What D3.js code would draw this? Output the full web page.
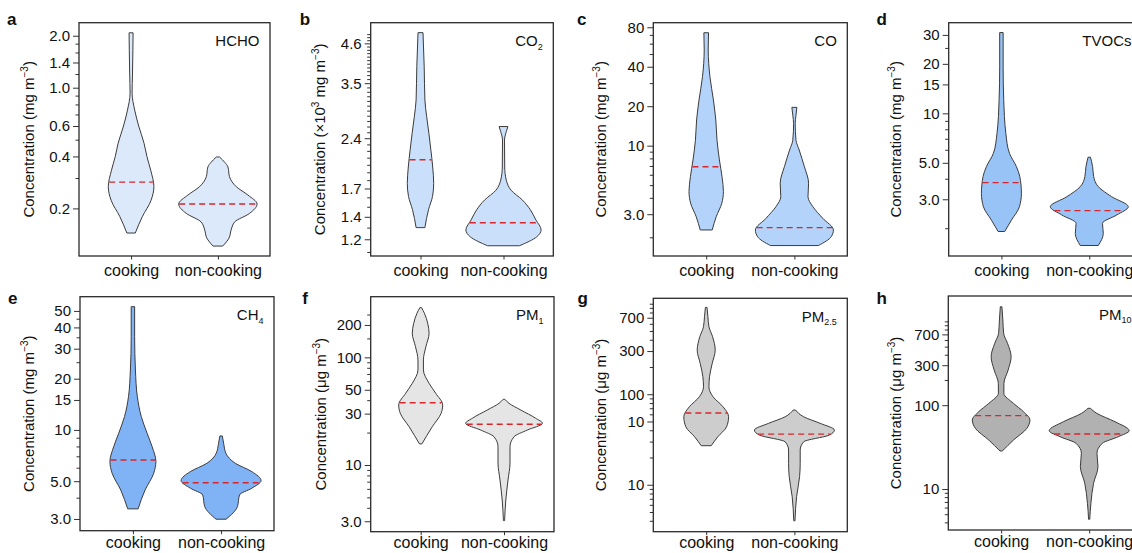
<!DOCTYPE html>
<html><head><meta charset="utf-8">
<script src="https://cdn.jsdelivr.net/npm/d3@7"></script>
<style>
body{margin:0;background:#fff;}
svg text{font-family:"Liberation Sans",Arial,Helvetica,sans-serif;fill:#111;}
</style></head><body>
<svg id="chart" width="1132" height="553"></svg>
<script>
// ---------------- DATA ----------------
const categories = ["cooking", "non-cooking"];

// Violin profiles: [concentration, relative density (half-width)]
// a: HCHO (mg m-3)
const hchoCooking    = [[2.08,0.05],[1.65,0.045],[1.2,0.035],[0.93,0.025],[0.742,0.09],[0.60,0.19],[0.476,0.325],[0.40,0.395],[0.333,0.49],[0.267,0.57],[0.223,0.50],[0.179,0.28],[0.144,0.105]];
const hchoNonCooking = [[0.397,0.04],[0.37,0.17],[0.348,0.25],[0.305,0.29],[0.267,0.46],[0.239,0.75],[0.212,0.98],[0.187,0.79],[0.167,0.42],[0.150,0.33],[0.135,0.28],[0.121,0.12]];
const hchoMedians = [0.284, 0.212];
const hchoTicks = [0.2,0.4,0.6,1.0,1.4,2.0];
const hchoTickLabels = ["0.2","0.4","0.6","1.0","1.4","2.0"];
const hchoMinor = [0.3,0.5,0.7,0.8,0.9,1.2,1.6,1.8];

// b: CO2 (x10^3 mg m-3)
const co2Cooking    = [[4.95,0.0625],[3.92,0.0925],[3.12,0.11],[2.78,0.155],[2.48,0.21],[2.21,0.26],[1.97,0.305],[1.76,0.33],[1.61,0.30],[1.47,0.20],[1.30,0.11]];
const co2NonCooking = [[2.60,0.11],[2.51,0.07],[2.37,0.025],[1.97,0.03],[1.80,0.07],[1.68,0.19],[1.57,0.475],[1.47,0.67],[1.37,0.81],[1.28,0.94],[1.22,0.83],[1.148,0.40]];
const co2Medians = [2.07, 1.344];
const co2Ticks = [1.2,1.4,1.7,2.4,3.5,4.6];
const co2TickLabels = ["1.2","1.4","1.7","2.4","3.5","4.6"];
const co2Minor = [1.1,1.3,1.5,1.6,1.8,1.9,2.0,2.1,2.2,2.3,2.5,2.6,2.7,2.8,2.9,3.0,3.1,3.2,3.3,3.4,3.6,3.7,3.8,3.9,4.0,4.1,4.2,4.3,4.4,4.5,4.7,4.8,4.9];

// c: CO (mg m-3)
const coCooking    = [[72.7,0.058],[53.7,0.05],[33.6,0.093],[22.3,0.18],[15.7,0.24],[11.0,0.27],[7.78,0.33],[5.8,0.395],[4.46,0.43],[3.64,0.39],[2.87,0.25],[2.275,0.15]];
const coNonCooking = [[19.6,0.063],[17.1,0.04],[14.8,0.02],[11.0,0.04],[9.27,0.12],[6.91,0.25],[5.17,0.355],[4.08,0.34],[3.43,0.46],[2.79,0.71],[2.275,0.975],[2.02,0.92],[1.73,0.60]];
const coMedians = [6.91, 2.37];
const coTicks = [3,10,20,40,80];
const coTickLabels = ["3.0","10","20","40","80"];
const coMinor = [2,4,5,6,7,8,9,30,50,60,70];

// d: TVOCs (mg m-3)
const tvocCooking    = [[31,0.043],[19.2,0.043],[12.1,0.058],[7.57,0.11],[5.72,0.20],[4.74,0.375],[4.12,0.46],[3.26,0.50],[2.70,0.45],[2.24,0.25],[1.91,0.083]];
const tvocNonCooking = [[5.41,0.03],[4.74,0.083],[4.12,0.11],[3.58,0.225],[3.11,0.56],[2.70,0.975],[2.41,0.69],[2.14,0.33],[1.86,0.35],[1.57,0.225]];
const tvocMedians = [3.79, 2.56];
const tvocTicks = [3,5,10,15,20,30];
const tvocTickLabels = ["3.0","5.0","10","15","20","30"];
const tvocMinor = [2,4,6,7,8,9,25];

// e: CH4 (mg m-3)
const ch4Cooking    = [[52.97,0.043],[35.3,0.043],[22.5,0.063],[15.7,0.11],[11.97,0.21],[9.56,0.355],[7.98,0.48],[6.52,0.575],[5.57,0.52],[4.44,0.305],[3.44,0.13]];
const ch4NonCooking = [[9.22,0.03],[8.36,0.063],[7.30,0.12],[6.37,0.355],[5.69,0.77],[5.04,1.0],[4.55,0.77],[4.15,0.46],[3.55,0.41],[2.99,0.125]];
const ch4Medians = [6.66, 4.90];
const ch4Ticks = [3,5,10,15,20,30,40,50];
const ch4TickLabels = ["3.0","5.0","10","15","20","30","40","50"];
const ch4Minor = [4,6,7,8,9,25,35,45];

// f: PM1 (ug m-3)
const pm1Cooking    = [[289.7,0.02],[257,0.093],[207,0.175],[167.5,0.21],[125.7,0.13],[94.6,0.068],[76.4,0.068],[57.4,0.21],[46.4,0.375],[36.1,0.55],[30.2,0.51],[22.7,0.29],[15.7,0.03]];
const pm1NonCooking = [[40.8,0.02],[37.4,0.125],[32.4,0.42],[27.2,0.79],[24.4,0.96],[21.1,0.58],[18.3,0.25],[14.8,0.15],[10.4,0.15],[7.26,0.10],[4.73,0.045],[3.04,0.015]];
const pm1Medians = [37.9, 23.9];
const pm1Ticks = [3,10,30,50,100,200];
const pm1TickLabels = ["3.0","10","30","50","100","200"];
const pm1Minor = [4,5,6,7,8,9,20,40,60,70,80,90,150,250];

// g: PM2.5 (ug m-3)
const pm25Cooking    = [[912,0.02],[718,0.043],[557,0.068],[432,0.16],[307,0.225],[219,0.15],[156,0.083],[121,0.068],[93.9,0.17],[72.8,0.42],[56.4,0.56],[43.7,0.51],[33.9,0.29],[27.0,0.125]];
const pm25NonCooking = [[66.9,0.03],[56.4,0.23],[47.7,0.645],[40.2,1.0],[35.4,0.875],[29.8,0.23],[24.2,0.145],[17.2,0.145],[12.3,0.13],[7.37,0.055],[4.0,0.015]];
const pm25Medians = [62, 36.3];
const pm25Ticks = [10,50,100,300,700];
const pm25TickLabels = ["10","10","100","300","700"];
const pm25Minor = [4,5,6,7,8,9,20,30,40,60,70,80,90,200,400,500,600,800,900,1000];

// h: PM10 (ug m-3)
const pm10Cooking    = [[1497,0.02],[1040,0.043],[721,0.063],[548,0.16],[380,0.25],[263,0.175],[182,0.07],[139,0.068],[105,0.31],[83.6,0.56],[66.6,0.72],[53.0,0.645],[38.4,0.31],[28.4,0.03]];
const pm10NonCooking = [[91.8,0.03],[80,0.19],[63.5,0.645],[49.6,1.0],[42.1,0.73],[35.1,0.33],[26.7,0.195],[18.5,0.22],[11.7,0.11],[6.75,0.043],[4.35,0.015]];
const pm10Medians = [75, 45.3];
const pm10Ticks = [10,100,300,700];
const pm10TickLabels = ["10","100","300","700"];
const pm10Minor = [4,5,6,7,8,9,200,400,500,600,800,900,1000];

// ---------------- LAYOUT / STYLE ----------------
const mgUnit  = [["Concentration (mg m",0],["\u22123",1],[")",0]];
const co2Unit = [["Concentration (\u00d710",0],["3",1],[" mg m",0],["\u22123",1],[")",0]];
const ugUnit  = [["Concentration (\u03bcg m",0],["\u22123",1],[")",0]];

const panels = [
  {letter:"a", lx:11.7, ly:25,  box:[79,22.7,270,256],      dom:[0.106,2.38], fill:"#dce9fb", title:[["HCHO",0]], unit:mgUnit,  tx:33.5, xpad:5,
   prof:[hchoCooking,hchoNonCooking], med:hchoMedians, ticks:hchoTicks, labels:hchoTickLabels, minor:hchoMinor},
  {letter:"b", lx:305,  ly:25,  box:[370.7,22.7,553.3,256], dom:[1.07,5.30],  fill:"#c9dffa", title:[["CO",0],["2",2]], unit:co2Unit, tx:324.5, xpad:5,
   prof:[co2Cooking,co2NonCooking], med:co2Medians, ticks:co2Ticks, labels:co2TickLabels, minor:co2Minor},
  {letter:"c", lx:581.7,ly:25,  box:[653.3,22.7,847.3,256], dom:[1.44,86.7],  fill:"#b3d3fa", title:[["CO",0]], unit:mgUnit, tx:606, xpad:5,
   prof:[coCooking,coNonCooking], med:coMedians, ticks:coTicks, labels:coTickLabels, minor:coMinor},
  {letter:"d", lx:881.7,ly:25,  box:[948.7,22.7,1142,256],  dom:[1.355,35.6], fill:"#98c3f7", title:[["TVOCs",0]], unit:mgUnit, tx:901, xpad:5,
   prof:[tvocCooking,tvocNonCooking], med:tvocMedians, ticks:tvocTicks, labels:tvocTickLabels, minor:tvocMinor},
  {letter:"e", lx:12.7, ly:303.5,box:[80,296.7,274,530.7],  dom:[2.56,60.6],  fill:"#7fb3f6", title:[["CH",0],["4",2]], unit:mgUnit, tx:33.5, xpad:2,
   prof:[ch4Cooking,ch4NonCooking], med:ch4Medians, ticks:ch4Ticks, labels:ch4TickLabels, minor:ch4Minor},
  {letter:"f", lx:305,  ly:303.5,box:[370.7,296.7,554,531.7],dom:[2.40,366],  fill:"#e5e5e5", title:[["PM",0],["1",2]], unit:ugUnit, tx:326, xpad:1,
   prof:[pm1Cooking,pm1NonCooking], med:pm1Medians, ticks:pm1Ticks, labels:pm1TickLabels, minor:pm1Minor},
  {letter:"g", lx:582.7,ly:303.5,box:[653.3,298.3,847.3,531.7],dom:[3.03,1148],fill:"#cdcdcd", title:[["PM",0],["2.5",2]], unit:ugUnit, tx:606, xpad:1,
   prof:[pm25Cooking,pm25NonCooking], med:pm25Medians, ticks:pm25Ticks, labels:pm25TickLabels, minor:pm25Minor},
  {letter:"h", lx:881.7,ly:303.5,box:[948.3,296,1142,530],  dom:[3.24,2010],  fill:"#b1b1b1", title:[["PM",0],["10",2]], unit:ugUnit, tx:901, xpad:2,
   prof:[pm10Cooking,pm10NonCooking], med:pm10Medians, ticks:pm10Ticks, labels:pm10TickLabels, minor:pm10Minor}
];

const svg = d3.select("#chart");
const FONT = '"Liberation Sans",Arial,Helvetica,sans-serif';

function addRich(sel, parts, baseSize, supSize, supShift) {
  let shift = 0;
  parts.forEach(([t, kind]) => {
    const ts = sel.append("tspan").text(t);
    let target = 0;
    if (kind === 1) { ts.attr("font-size", supSize); target = -supShift; }
    else if (kind === 2) { ts.attr("font-size", supSize); target = supShift * 0.55; }
    ts.attr("dy", target - shift);
    shift = target;
  });
}

function xAtY(node, targetY) {
  const L = node.getTotalLength();
  let lo = 0, hi = L;
  for (let i = 0; i < 40; i++) {
    const mid = (lo + hi) / 2;
    if (node.getPointAtLength(mid).y < targetY) lo = mid; else hi = mid;
  }
  return node.getPointAtLength((lo + hi) / 2).x;
}

panels.forEach(p => {
  const [L, T, R, B] = p.box;
  const g = svg.append("g");
  const y = d3.scaleLog().domain(p.dom).range([B, T]);
  const x = d3.scalePoint().domain(categories).range([L, R]).padding(0.6);
  const w = d3.scaleLinear().domain([0, 1]).range([0, 40]);

  const clip = "clip-" + p.letter;
  svg.append("clipPath").attr("id", clip).append("rect").attr("x", L).attr("y", T).attr("width", R - L).attr("height", B - T);
  const plot = g.append("g").attr("clip-path", `url(#${clip})`);

  p.prof.forEach((prof, k) => {
    const cx = x(categories[k]);
    const pts = prof.map(([v, d]) => ({v, d})).sort((a, b) => b.v - a.v);
    const area = d3.area().curve(d3.curveMonotoneY)
      .y(d => y(d.v)).x0(d => cx - w(d.d)).x1(d => cx + w(d.d));
    plot.append("path").attr("d", area(pts))
      .attr("fill", p.fill).attr("stroke", "#3b3b3b").attr("stroke-width", 1);
    const side = d3.line().curve(d3.curveMonotoneY).y(d => y(d.v)).x(d => cx + w(d.d));
    const tmp = plot.append("path").attr("d", side(pts)).attr("fill", "none").attr("stroke", "none");
    const my = y(p.med[k]);
    const xr = xAtY(tmp.node(), my);
    tmp.remove();
    const half = xr - cx;
    plot.append("line").attr("x1", cx - half + 0.5).attr("x2", cx + half - 0.5)
      .attr("y1", my).attr("y2", my)
      .attr("stroke", "#d9262b").attr("stroke-width", 1.4).attr("stroke-dasharray", "6,4");
  });

  const minorAxis = d3.axisLeft(y).tickValues(p.minor).tickSize(3.5).tickFormat("");
  const gm = g.append("g").attr("transform", `translate(${L},0)`).call(minorAxis);
  gm.select(".domain").remove();
  gm.selectAll("line").attr("stroke", "#333");

  const yAxis = d3.axisLeft(y).tickValues(p.ticks)
    .tickFormat((d, i) => p.labels[i]).tickSize(6).tickPadding(3);
  const ga = g.append("g").attr("transform", `translate(${L},0)`).call(yAxis);
  ga.select(".domain").remove();
  ga.selectAll("line").attr("stroke", "#333");
  ga.selectAll("text").attr("font-size", 15).attr("font-family", FONT).attr("fill", "#111");

  const xAxis = d3.axisBottom(x).tickSize(3.5).tickPadding(p.xpad);
  const gx = g.append("g").attr("transform", `translate(0,${B})`).call(xAxis);
  gx.select(".domain").remove();
  gx.selectAll("line").attr("stroke", "#333");
  gx.selectAll("text").attr("font-size", 16).attr("font-family", FONT).attr("fill", "#111");

  g.append("rect").attr("x", L).attr("y", T).attr("width", R - L).attr("height", B - T)
    .attr("fill", "none").attr("stroke", "#2a2a2a").attr("stroke-width", 1.3);

  const tt = g.append("text").attr("x", R - 10.5).attr("y", T + 23.5)
    .attr("text-anchor", "end").attr("font-size", 15);
  addRich(tt, p.title, 15, 9, 6);

  const yt = g.append("text").attr("transform", `translate(${p.tx},${(T + B) / 2}) rotate(-90)`)
    .attr("text-anchor", "middle").attr("font-size", 15);
  addRich(yt, p.unit, 15, 10, 6);

  svg.append("text").attr("x", p.lx).attr("y", p.ly).attr("text-anchor", "middle")
    .attr("font-size", 17).attr("font-weight", "bold").text(p.letter);
});
</script>
</body></html>
